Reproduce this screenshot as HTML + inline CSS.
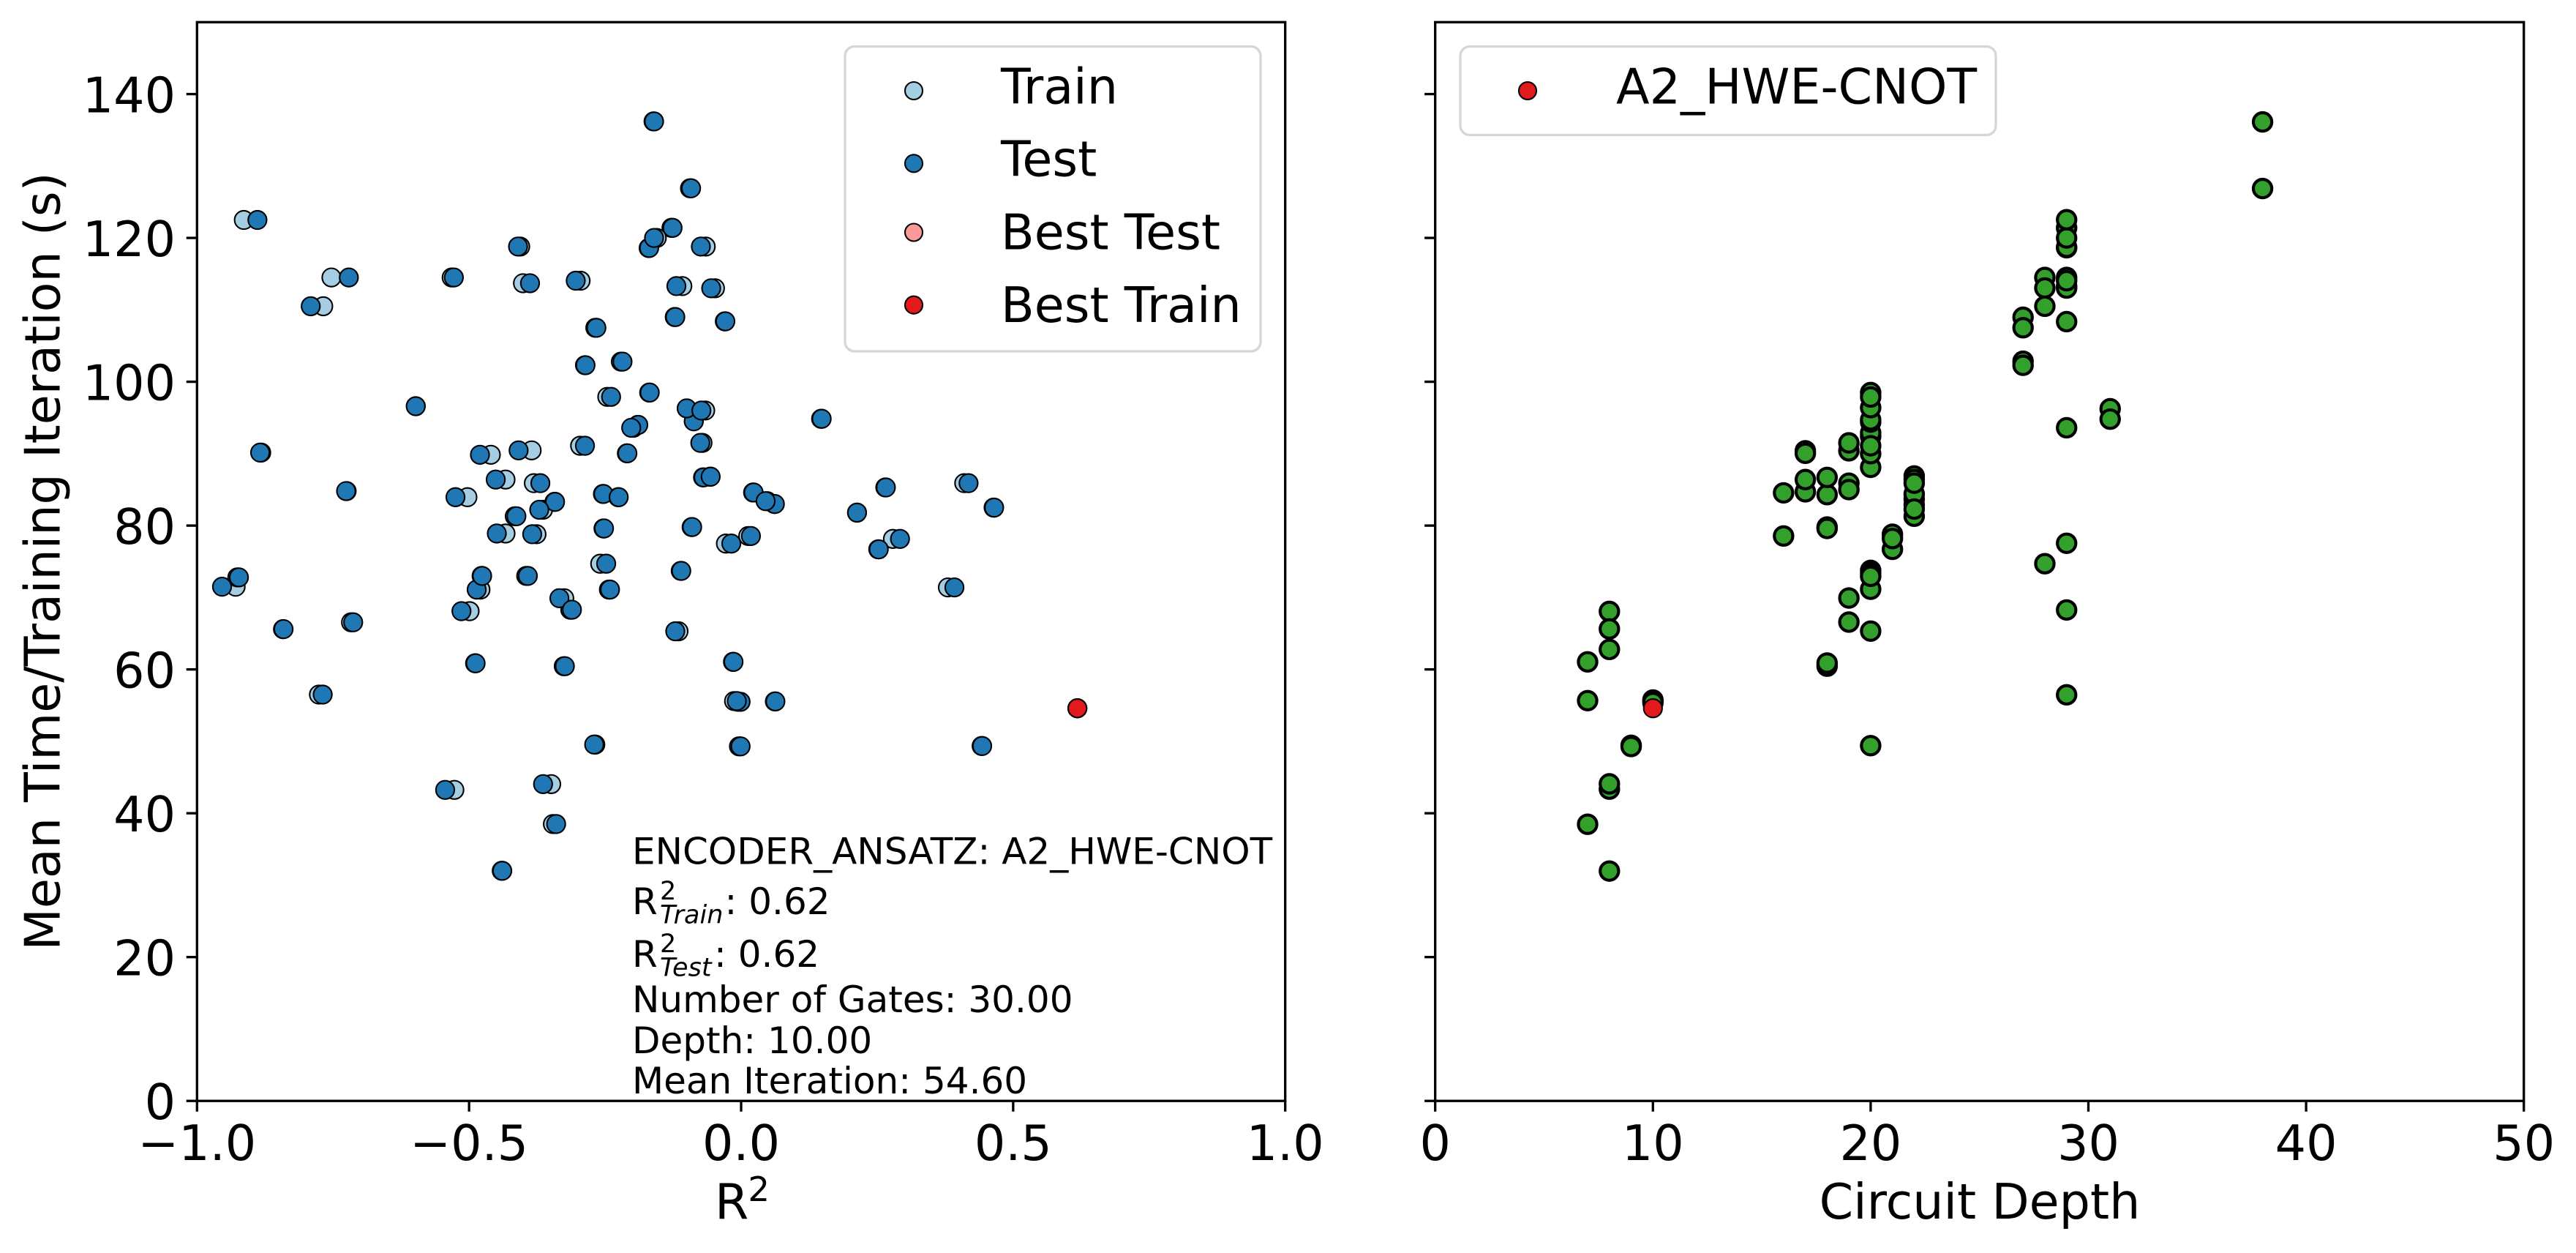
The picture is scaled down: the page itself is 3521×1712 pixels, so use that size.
<!DOCTYPE html>
<html lang="en">
<head>
<meta charset="utf-8">
<title>Mean time per training iteration vs R² and circuit depth</title>
<style>
html,body{margin:0;padding:0;background:#fff;}
svg{display:block;}
text{font-family:"DejaVu Sans","Liberation Sans",sans-serif;fill:#000;}
.tick{font-size:66.67px;}
.ann{font-size:50px;}
.sup{font-size:35px;}
.sub{font-size:35px;font-style:italic;}
</style>
</head>
<body>
<svg id="fig" xmlns="http://www.w3.org/2000/svg" width="3521" height="1712" viewBox="0 0 3521 1712">
  <rect x="0" y="0" width="3521" height="1712" fill="#fff"/>
  <g id="marksLeft"></g>
  <g id="marksRight"></g>
  <g id="axesLayer"></g>

  <text font-size="66.67" text-anchor="middle" transform="translate(81.5,767) rotate(-90)">Mean Time/Training Iteration (s)</text>
  <text x="977" y="1665" font-size="66.67">R<tspan font-size="46.67" dx="-1" dy="-24">2</tspan></text>
  <text x="2706" y="1665" font-size="66.67" text-anchor="middle">Circuit Depth</text>

  <g transform="translate(2,0)">
    <text class="ann" x="862" y="1180.5">ENCODER_ANSATZ: A2_HWE-CNOT</text>
    <g>
      <text class="ann" x="862" y="1249">R</text>
      <text class="sup" x="900" y="1229">2</text>
      <text class="sub" x="900" y="1261.5">Train</text>
      <text class="ann" x="988.5" y="1249">: 0.62</text>
    </g>
    <g>
      <text class="ann" x="862" y="1321">R</text>
      <text class="sup" x="900" y="1301">2</text>
      <text class="sub" x="900" y="1333.5">Test</text>
      <text class="ann" x="974" y="1321">: 0.62</text>
    </g>
    <text class="ann" x="862" y="1383">Number of Gates: 30.00</text>
    <text class="ann" x="862" y="1439">Depth: 10.00</text>
    <text class="ann" x="862" y="1494">Mean Iteration: 54.60</text>
  </g>

  <g>
    <rect x="1155" y="63.5" width="568" height="416.5" rx="13" ry="13" fill="#fff" fill-opacity="0.8" stroke="#d6d6d6" stroke-width="3.33"/>
    <g>
      <circle cx="1249" cy="124" r="12" fill="#a6cee3" stroke="#000" stroke-width="2.08"/>
      <text x="1368" y="141.7" font-size="66.67">Train</text>
    </g>
    <g>
      <circle cx="1249" cy="223.3" r="12" fill="#1f78b4" stroke="#000" stroke-width="2.08"/>
      <text x="1368" y="240.7" font-size="66.67">Test</text>
    </g>
    <g>
      <circle cx="1249" cy="317.5" r="12" fill="#fb9a99" stroke="#000" stroke-width="2.08"/>
      <text x="1368" y="340.7" font-size="66.67">Best Test</text>
    </g>
    <g>
      <circle cx="1249" cy="416.7" r="12" fill="#e31a1c" stroke="#000" stroke-width="2.08"/>
      <text x="1368" y="440" font-size="66.67">Best Train</text>
    </g>
  </g>

  <g>
    <rect x="1996" y="63.5" width="732" height="121" rx="13" ry="13" fill="#fff" fill-opacity="0.8" stroke="#d6d6d6" stroke-width="3.33"/>
    <g>
      <circle cx="2088" cy="124" r="12" fill="#e31a1c" stroke="#000" stroke-width="2.08"/>
      <text x="2209" y="141.7" font-size="66.67">A2_HWE-CNOT</text>
    </g>
  </g>
</svg>

<script>
// Mean time per training iteration (s), one value per circuit
const iterTimes = [
  122.5,136.2,126.9,121.4,118.6,120.0,118.8,118.8,114.5,114.5,
  110.5,113.7,114.05,113.3,113.0,109.0,108.4,107.5,102.3,102.8,
  96.6,97.9,98.5,94.5,96.3,96.0,94.0,93.6,91.5,91.1,
  90.05,90.15,89.85,90.46,86.7,86.8,86.4,85.9,83.95,84.4,
  83.95,84.6,83.0,83.4,83.3,82.2,81.3,84.8,79.6,79.8,
  78.9,78.8,78.55,77.5,85.3,81.8,85.9,82.5,76.7,78.15,
  71.4,74.7,73.7,71.1,73.0,73.0,71.1,69.9,68.3,68.1,
  71.5,72.8,65.6,66.55,65.3,60.85,60.45,61.05,56.5,55.5,
  55.6,55.55,49.35,49.3,49.55,43.25,44.05,38.5,32.0,94.85
];
// R² on the test split, same order as iterTimes
const r2Test = [
  -0.889,-0.160,-0.092,-0.126,-0.169,-0.160,-0.074,-0.410,-0.721,-0.528,
  -0.791,-0.388,-0.304,-0.119,-0.055,-0.121,-0.029,-0.266,-0.286,-0.218,
  -0.598,-0.239,-0.168,-0.087,-0.100,-0.073,-0.189,-0.202,-0.075,-0.287,
  -0.209,-0.884,-0.480,-0.409,-0.069,-0.056,-0.451,-0.369,-0.525,-0.253,
  -0.225,0.023,0.062,0.045,-0.342,-0.371,-0.413,-0.726,-0.252,-0.090,
  -0.449,-0.384,0.018,-0.018,0.266,0.213,0.418,0.465,0.253,0.292,
  0.392,-0.248,-0.110,-0.486,-0.476,-0.392,-0.241,-0.334,-0.311,-0.514,
  -0.954,-0.923,-0.841,-0.713,-0.121,-0.488,-0.324,-0.014,-0.769,-0.001,
  -0.008,0.063,0.443,-0.001,-0.270,-0.544,-0.364,-0.340,-0.439,0.148
];
// R² on the training split, same order as iterTimes
const r2Train = [
  -0.914,-0.161,-0.094,-0.128,-0.170,-0.155,-0.065,-0.406,-0.753,-0.532,
  -0.768,-0.401,-0.295,-0.108,-0.048,-0.122,-0.030,-0.268,-0.287,-0.221,
  -0.598,-0.246,-0.169,-0.087,-0.100,-0.066,-0.190,-0.198,-0.071,-0.296,
  -0.210,-0.882,-0.460,-0.385,-0.070,-0.057,-0.433,-0.381,-0.503,-0.254,
  -0.226,0.022,0.061,0.048,-0.343,-0.364,-0.416,-0.725,-0.253,-0.091,
  -0.433,-0.376,0.013,-0.028,0.265,0.213,0.410,0.464,0.252,0.279,
  0.380,-0.259,-0.111,-0.479,-0.477,-0.395,-0.243,-0.325,-0.314,-0.499,
  -0.929,-0.926,-0.842,-0.717,-0.115,-0.489,-0.326,-0.015,-0.776,-0.006,
  -0.013,0.062,0.442,-0.004,-0.268,-0.527,-0.349,-0.346,-0.440,0.147
];
// Highlighted best circuit (same point for train and test)
const bestR2 = [0.618];
const bestIter = [54.6];
const bestDepth = [10];

// Right panel: circuit depth against iteration time
const depthValues = [
  7,7,7,
  8,8,8,8,8,8,
  9,9,
  10,10,
  16,16,
  17,17,17,17,
  18,18,18,18,18,18,
  19,19,19,19,19,19,
  20,20,20,20,20,20,20,20,20,20,20,20,20,20,20,20,
  21,21,21,
  22,22,22,22,22,22,22,22,
  27,27,27,27,
  28,28,28,28,
  29,29,29,29,29,29,29,29,29,29,29,29,29,29,
  31,31,
  38,38
];
const depthTimes = [
  61.05,55.66,38.47,
  68.07,65.63,62.78,43.35,44.09,31.96,
  49.45,49.28,
  55.75,55.4,
  84.55,78.55,
  90.4,90.05,84.7,86.4,
  84.3,86.7,79.8,79.6,60.45,60.88,
  90.4,91.5,85.9,85.0,69.93,66.58,
  88.1,90.0,92.4,92.9,94.4,94.7,96.4,98.5,97.88,91.1,73.77,73.36,71.15,72.95,65.33,49.4,
  76.7,78.8,78.2,
  81.3,82.9,83.7,84.4,82.3,86.9,86.4,85.9,
  108.97,107.51,102.86,102.29,
  114.5,113.04,110.5,74.7,
  118.63,118.7,121.4,120.0,122.53,114.5,113.27,113.03,114.05,108.36,93.6,77.54,68.27,56.47,
  96.25,94.8,
  136.13,126.87
];

// Axis ticks and their printed labels
const yTicks = [0,20,40,60,80,100,120,140];
const yTickLabels = ['0','20','40','60','80','100','120','140'];
const r2Ticks = [-1,-0.5,0,0.5,1];
const r2TickLabels = ['\u22121.0','\u22120.5','0.0','0.5','1.0'];
const depthTicks = [0,10,20,30,40,50];
const depthTickLabels = ['0','10','20','30','40','50'];

const SVG_NS = 'http://www.w3.org/2000/svg';
const plotTop = 30.3, plotBottom = 1504.2;
const leftX0 = 269.3, leftX1 = 1756.7;
const rightX0 = 1961.7, rightX1 = 3449.7;

function yScale(v){ return plotBottom + (plotTop - plotBottom) * (v / 150); }
function xR2(v){ return leftX0 + (leftX1 - leftX0) * ((v + 1) / 2); }
function xDepth(v){ return rightX0 + (rightX1 - rightX0) * (v / 50); }

function drawPoint(parent, cx, cy, fill, strokeWidth, name){
  const el = document.createElementNS(SVG_NS, 'circle');
  el.setAttribute('cx', cx.toFixed(2));
  el.setAttribute('cy', cy.toFixed(2));
  el.setAttribute('r', '12.6');
  el.setAttribute('fill', fill);
  el.setAttribute('stroke', '#000');
  el.setAttribute('stroke-width', strokeWidth);
  
  
  parent.appendChild(el);
}

function drawLine(parent, x1, y1, x2, y2, name){
  const el = document.createElementNS(SVG_NS, 'line');
  el.setAttribute('x1', x1.toFixed(2));
  el.setAttribute('y1', y1.toFixed(2));
  el.setAttribute('x2', x2.toFixed(2));
  el.setAttribute('y2', y2.toFixed(2));
  el.setAttribute('stroke', '#000');
  el.setAttribute('stroke-width', '3.33');
  
  
  parent.appendChild(el);
}

function drawLabel(parent, x, y, anchor, label, name){
  const el = document.createElementNS(SVG_NS, 'text');
  el.setAttribute('class', 'tick');
  el.setAttribute('x', x.toFixed(2));
  el.setAttribute('y', y.toFixed(2));
  el.setAttribute('text-anchor', anchor);
  
  
  el.textContent = label;
  parent.appendChild(el);
}

function drawFrame(parent, x0, x1, name){
  const el = document.createElementNS(SVG_NS, 'rect');
  el.setAttribute('x', x0);
  el.setAttribute('y', plotTop);
  el.setAttribute('width', x1 - x0);
  el.setAttribute('height', plotBottom - plotTop);
  el.setAttribute('fill', 'none');
  el.setAttribute('stroke', '#000');
  el.setAttribute('stroke-width', '3.33');
  
  
  parent.appendChild(el);
}

const marksLeft = document.getElementById('marksLeft');
const marksRight = document.getElementById('marksRight');
const axesLayer = document.getElementById('axesLayer');

iterTimes.forEach(function(t, i){
  drawPoint(marksLeft, xR2(r2Train[i]), yScale(t), '#a6cee3', '2.08', 'train-point');
});
iterTimes.forEach(function(t, i){
  drawPoint(marksLeft, xR2(r2Test[i]), yScale(t), '#1f78b4', '2.08', 'test-point');
});
drawPoint(marksLeft, xR2(bestR2[0]), yScale(bestIter[0]), '#fb9a99', '2.08', 'best-test-point');
drawPoint(marksLeft, xR2(bestR2[0]), yScale(bestIter[0]), '#e31a1c', '2.08', 'best-train-point');

depthValues.forEach(function(d, i){
  drawPoint(marksRight, xDepth(d), yScale(depthTimes[i]), '#33a02c', '4.17', 'depth-point');
});
drawPoint(marksRight, xDepth(bestDepth[0]), yScale(bestIter[0]), '#e31a1c', '2.08', 'best-depth-point');

drawFrame(axesLayer, leftX0, leftX1, 'r2-plot-frame');
drawFrame(axesLayer, rightX0, rightX1, 'depth-plot-frame');

yTicks.forEach(function(v, i){
  drawLine(axesLayer, leftX0 - 14.6, yScale(v), leftX0, yScale(v), 'y-tick-left');
  drawLine(axesLayer, rightX0 - 14.6, yScale(v), rightX0, yScale(v), 'y-tick-right');
  drawLabel(axesLayer, 240, yScale(v) + 25, 'end', yTickLabels[i], 'y-tick-label');
});
r2Ticks.forEach(function(v, i){
  drawLine(axesLayer, xR2(v), plotBottom, xR2(v), plotBottom + 14.6, 'r2-x-tick');
  drawLabel(axesLayer, xR2(v), 1585, 'middle', r2TickLabels[i], 'r2-x-tick-label');
});
depthTicks.forEach(function(v, i){
  drawLine(axesLayer, xDepth(v), plotBottom, xDepth(v), plotBottom + 14.6, 'depth-x-tick');
  drawLabel(axesLayer, xDepth(v), 1585, 'middle', depthTickLabels[i], 'depth-x-tick-label');
});
</script>
</body>
</html>
